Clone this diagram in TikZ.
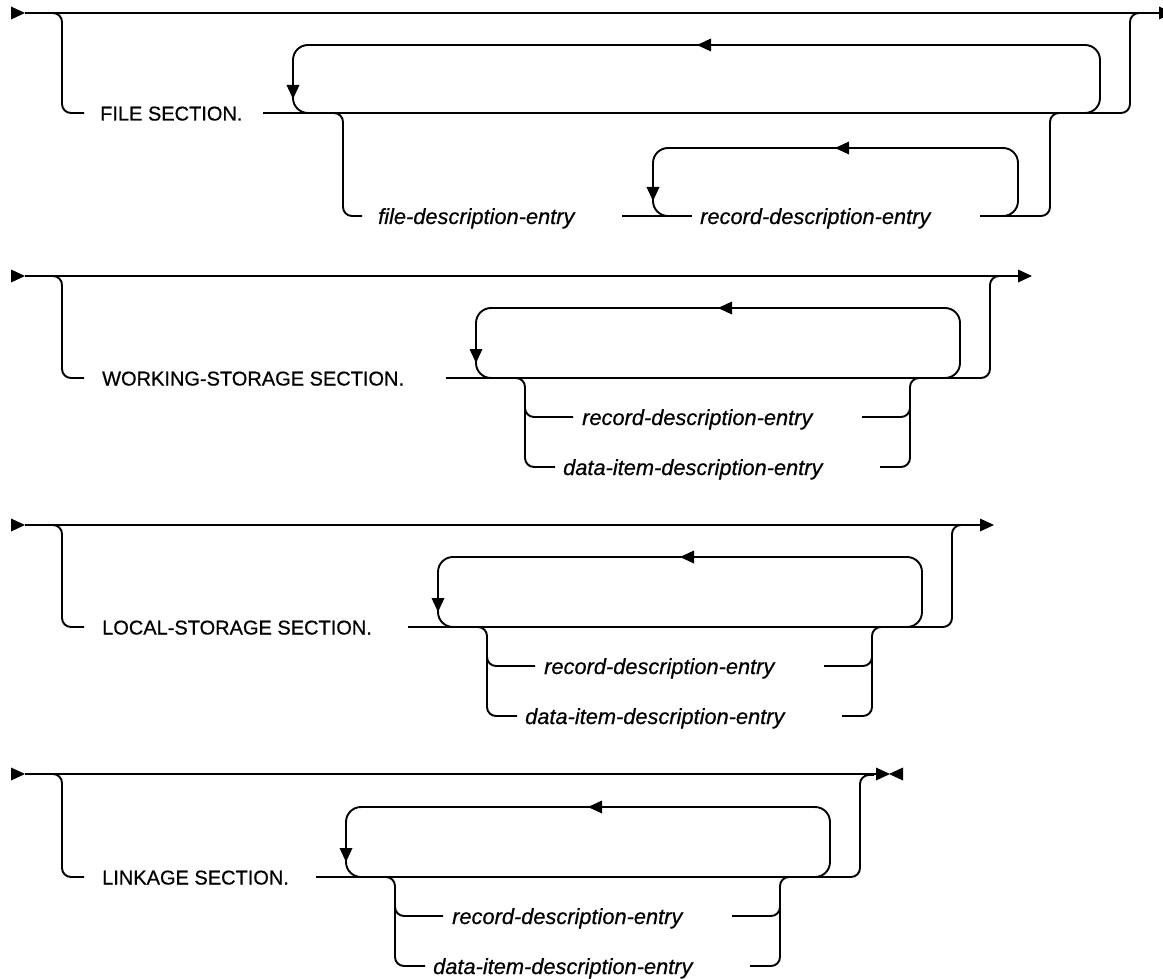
\documentclass[tikz,border=0pt]{standalone}
\usepackage{fontspec}
\setmainfont{Liberation Sans}
\newfontfamily\railfont{Liberation Sans}[FakeBold=0.6]
\tikzset{
 rail/.style={line width=1.9pt, line cap=butt},
 loopline/.style={rail, rounded corners=15pt},
 branchline/.style={rail, rounded corners=9pt},
 kw/.style={anchor=base west, inner sep=0pt, font=\railfont\fontsize{20}{24}\selectfont},
 var/.style={anchor=base west, inner sep=0pt, font=\railfont\fontsize{21.8}{26}\selectfont\itshape},
 tipR/.pic={\fill (0,-6.5) -- (14,0) -- (0,6.5) -- cycle;},
 tipL/.pic={\fill (0,0) -- (14,-6.5) -- (14,6.5) -- cycle;},
 tipD/.pic={\fill (0,0) -- (-6.5,-14) -- (6.5,-14) -- cycle;},
}
% repeat loop with choice (drawn in the coordinates of the WORKING-STORAGE row)
\newcommand\lcpart[1]{%
 \draw[branchline] (446,378) -- (990,378) -- (990,276) -- (1004,276);
 \draw[loopline] (940,378) -- (960,378) -- (960,308) -- (476,308) -- (476,378) -- (496,378);
 \pic at (718,308) {tipL};
 \pic at (476,363) {tipD};
 \draw[branchline] (510,378) -- (525,378) -- (525,467) -- (555,467);
 \draw[branchline] (525,400) -- (525,417) -- (573,417);
 \draw[branchline] (880,467) -- (910,467) -- (910,378) -- (924,378);
 \draw[branchline] (862,417) -- (910,417) -- (910,400);
 \node[var] (rde#1) at (582,425) {record-description-entry};
 \node[var] (dide#1) at (563,475) {data-item-description-entry};
}
\begin{document}
\begin{tikzpicture}[x=1pt,y=-1pt]
\useasboundingbox (0,0) rectangle (1163,979);

% ---------- FILE SECTION ----------
\draw[rail] (25,13) -- (1159,13);
\pic at (11,13) {tipR};
\pic at (1159,13) {tipR};
\draw[branchline] (48,13) -- (62,13) -- (62,113) -- (84,113);
\node[kw] (fs) at (100,120.5) {FILE SECTION.};
\draw[branchline] (263,113) -- (1130,113) -- (1130,13) -- (1144,13);
\draw[loopline] (1080,113) -- (1100,113) -- (1100,45) -- (293,45) -- (293,113) -- (313,113);
\pic at (697,45) {tipL};
\pic at (293,99) {tipD};
\draw[branchline] (328,113) -- (343,113) -- (343,216) -- (362,216);
\node[var] (fde) at (378,224) {file-description-entry};
\draw[rail] (622,216) -- (692,216);
\draw[loopline] (1000,216) -- (1018,216) -- (1018,148) -- (653,148) -- (653,216) -- (673,216);
\pic at (835,148) {tipL};
\pic at (653,201) {tipD};
\node[var] (rde1) at (700,224) {record-description-entry};
\draw[branchline] (980,216) -- (1050,216) -- (1050,113) -- (1064,113);

% ---------- WORKING-STORAGE SECTION ----------
\draw[rail] (25,276) -- (1018,276);
\pic at (11,276) {tipR};
\pic at (1018,276) {tipR};
\draw[branchline] (48,276) -- (62,276) -- (62,378) -- (84,378);
\node[kw] (ws) at (102,385.5) {WORKING-STORAGE SECTION.};
\lcpart{2}

% ---------- LOCAL-STORAGE SECTION ----------
\draw[rail] (25,525) -- (980,525);
\pic at (11,525) {tipR};
\pic at (980,525) {tipR};
\draw[branchline] (48,525) -- (62,525) -- (62,627) -- (84,627);
\node[kw] (ls) at (102,634.5) {LOCAL-STORAGE SECTION.};
\begin{scope}[shift={(-38,249)}]
\lcpart{3}
\end{scope}

% ---------- LINKAGE SECTION ----------
\draw[rail] (25,774) -- (876,774);
\pic at (11,774) {tipR};
\pic at (876,774) {tipR};
\pic at (889,774) {tipL};
\draw[branchline] (48,774) -- (62,774) -- (62,877) -- (84,877);
\node[kw] (lk) at (102,884.5) {LINKAGE SECTION.};
\begin{scope}[shift={(-130,499)}]
\lcpart{4}
\end{scope}
\end{tikzpicture}
\end{document}
